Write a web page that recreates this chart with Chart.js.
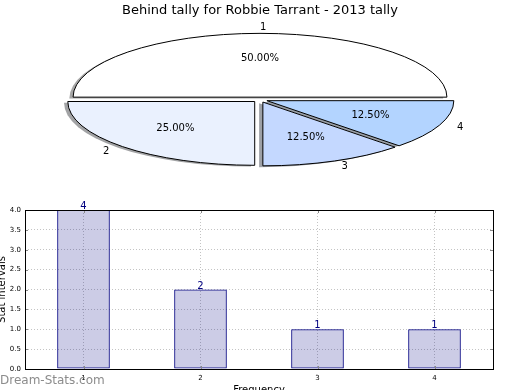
<!DOCTYPE html>
<html>
<head>
<meta charset="utf-8">
<script src="https://cdn.jsdelivr.net/npm/chart.js@4.4.1/dist/chart.umd.min.js"></script>
<style>
  html, body { margin: 0; padding: 0; background: #fff; }
  #wrap { position: relative; width: 520px; height: 390px; overflow: hidden; }
  .box { position: absolute; left: 0; width: 520px; }
</style>
</head>
<body>
<div id="wrap">
  <div class="box" style="top:0;height:195px"><canvas id="pie"></canvas></div>
  <div class="box" style="top:195px;height:195px"><canvas id="bars"></canvas></div>
</div>
<script>
const FONT = "'DejaVu Sans', sans-serif"

// data
const chartTitle  = "Behind tally for Robbie Tarrant - 2013 tally"
const categories  = ["1", "2", "3", "4"]
const tally       = [4, 2, 1, 1]
const sliceColors = ["#ffffff", "#eaf1fe", "#c4d8ff", "#b3d4ff"]
const xTitle      = "Frequency"
const yTitle      = "Stat intervals"
const watermark   = "Dream-Stats.com"

// matplotlib-ish pie: squashed into an ellipse, exploded, with a drop shadow
const STRETCH = 2.93     // horizontal radius / vertical radius
const EXPLODE = 0.04
const SHADOW  = 0.02

function shadowOf(hex) {
  const n = parseInt(hex.slice(1), 16)
  const r = (n >> 16) & 255, g = (n >> 8) & 255, b = n & 255
  return `rgba(${Math.round(r * 0.3)},${Math.round(g * 0.3)},${Math.round(b * 0.3)},0.5)`
}

const ellipsePie = {
  id: "ellipsePie",
  beforeDatasetsDraw(chart) {
    const ctx = chart.ctx
    const values = chart.data.datasets[0].data
    const total = values.reduce((a, b) => a + b, 0)
    // chart.js goes clockwise from the right; mirror it so slices run
    // counter-clockwise like the original
    const geo = chart.getDatasetMeta(0).data.map(arc => {
      const a = -arc.startAngle, b = -arc.endAngle
      const mid = (a + b) / 2
      const ry = arc.outerRadius, rx = ry * STRETCH
      return {
        a, b, mid, rx, ry,
        cx: arc.x + Math.cos(mid) * EXPLODE * rx,
        cy: arc.y + Math.sin(mid) * EXPLODE * ry
      }
    })
    const wedge = (g, dx, dy) => {
      ctx.beginPath()
      ctx.moveTo(g.cx + dx, g.cy + dy)
      ctx.ellipse(g.cx + dx, g.cy + dy, g.rx, g.ry, 0, g.a, g.b, true)
      ctx.closePath()
    }
    ctx.save()
    geo.forEach((g, i) => {
      wedge(g, -SHADOW * g.rx, SHADOW * g.ry)
      ctx.fillStyle = shadowOf(sliceColors[i])
      ctx.fill()
    })
    ctx.lineWidth = 1
    ctx.strokeStyle = "#000"
    geo.forEach((g, i) => {
      wedge(g, 0, 0)
      ctx.fillStyle = sliceColors[i]
      ctx.fill()
      ctx.stroke()
    })
    ctx.fillStyle = "#000"
    ctx.font = "10px " + FONT
    ctx.textBaseline = "middle"
    geo.forEach((g, i) => {
      const c = Math.cos(g.mid), s = Math.sin(g.mid)
      ctx.textAlign = c > -1e-9 ? "left" : "right"
      ctx.fillText(categories[i], g.cx + 1.1 * c * g.rx, g.cy + 1.1 * s * g.ry)
      ctx.textAlign = "center"
      ctx.fillText((values[i] / total * 100).toFixed(2) + "%", g.cx + 0.6 * c * g.rx, g.cy + 0.6 * s * g.ry)
    })
    ctx.restore()
    return false
  }
}

new Chart(document.getElementById("pie"), {
  type: "pie",
  data: {
    labels: categories,
    datasets: [{ data: tally, backgroundColor: sliceColors, borderColor: "#000", borderWidth: 1 }]
  },
  options: {
    responsive: true, maintainAspectRatio: false, animation: false, events: [],
    rotation: 90,
    layout: { padding: { top: 0, bottom: 31 } },
    plugins: {
      legend: { display: false },
      tooltip: { enabled: false },
      title: {
        display: true, text: chartTitle, color: "#000",
        font: { family: FONT, size: 13, weight: "normal" },
        padding: { top: 3, bottom: 16.8 }
      }
    }
  },
  plugins: [ellipsePie]
})

// box round the plot, small inward ticks, value labels and the watermark
const barExtras = {
  id: "barExtras",
  afterDatasetsDraw(chart) {
    const ctx = chart.ctx
    ctx.save()
    ctx.fillStyle = "#000080"
    ctx.font = "10px " + FONT
    ctx.textAlign = "center"
    ctx.textBaseline = "alphabetic"
    chart.getDatasetMeta(0).data.forEach((bar, i) => {
      ctx.fillText(String(tally[i]), bar.x, bar.y - 1)
    })
    ctx.restore()
  },
  afterDraw(chart) {
    const ctx = chart.ctx
    const { left, right, top, bottom } = chart.chartArea
    ctx.save()
    ctx.strokeStyle = "#888"
    ctx.lineWidth = 1
    ctx.beginPath()
    chart.scales.y.ticks.forEach(t => {
      const y = Math.round(chart.scales.y.getPixelForValue(t.value)) + 0.5
      ctx.moveTo(left, y); ctx.lineTo(left + 3, y)
      ctx.moveTo(right, y); ctx.lineTo(right - 3, y)
    })
    chart.scales.x.ticks.forEach((t, i) => {
      const x = Math.round(chart.scales.x.getPixelForTick(i)) + 0.5
      ctx.moveTo(x, bottom); ctx.lineTo(x, bottom - 3)
      ctx.moveTo(x, top); ctx.lineTo(x, top + 3)
    })
    ctx.stroke()
    ctx.strokeStyle = "#000"
    ctx.strokeRect(left + 0.5, top + 0.5, right - left, bottom - top)
    ctx.fillStyle = "#8c8c8c"
    ctx.font = "12px " + FONT
    ctx.textAlign = "left"
    ctx.textBaseline = "alphabetic"
    ctx.fillText(watermark, 0, chart.height - 6)
    ctx.restore()
  }
}

const tickFont = { family: FONT, size: 7 }

new Chart(document.getElementById("bars"), {
  type: "bar",
  data: {
    labels: categories,
    datasets: [{
      data: tally,
      backgroundColor: "rgba(0,0,128,0.2)",
      borderColor: "#000080",
      borderWidth: 1,
      borderSkipped: false,
      barPercentage: 0.45,
      categoryPercentage: 1
    }]
  },
  options: {
    responsive: true, maintainAspectRatio: false, animation: false, events: [],
    layout: { padding: { top: 15, right: 27, left: 0, bottom: 0 } },
    plugins: { legend: { display: false }, tooltip: { enabled: false } },
    scales: {
      x: {
        grid: { offset: false, color: "#c4c4c4", drawTicks: false },
        border: { display: false, dash: [1, 2] },
        ticks: { color: "#000", font: tickFont, padding: 5 },
        title: { display: true, text: xTitle, color: "#000", font: { family: FONT, size: 10 }, padding: { top: 0, bottom: -6 } },
        afterFit: s => { s.height = 21 }
      },
      y: {
        min: 0, max: 4,
        grid: { color: "#c4c4c4", drawTicks: false },
        border: { display: false, dash: [1, 2] },
        ticks: { stepSize: 0.5, color: "#000", font: tickFont, padding: 4, callback: v => v.toFixed(1) },
        title: { display: true, text: yTitle, color: "#000", font: { family: FONT, size: 10 }, padding: { top: -3.5, bottom: 0 } },
        afterFit: s => { s.width = 25 }
      }
    }
  },
  plugins: [barExtras]
})
</script>
</body>
</html>
